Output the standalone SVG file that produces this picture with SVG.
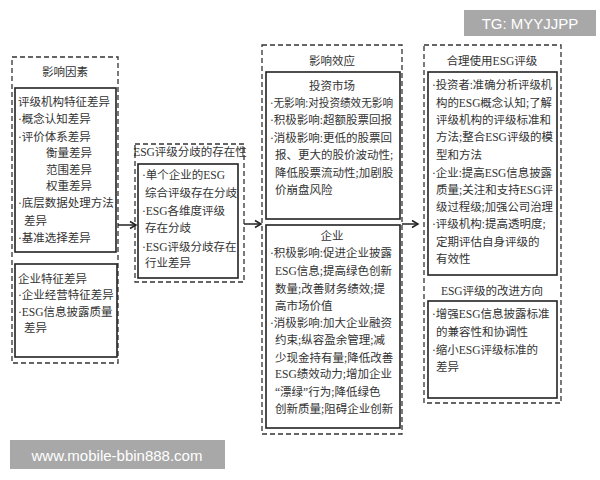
<svg xmlns="http://www.w3.org/2000/svg" width="600" height="480" viewBox="0 0 600 480">
<defs>
<style>
text{font-family:"Liberation Serif","Noto Sans CJK SC",serif;font-size:11.5px;fill:#333;dominant-baseline:central}
.t{text-anchor:middle}
.dash{fill:none;stroke:#333;stroke-width:1.3;stroke-dasharray:5,3}
.box{fill:none;stroke:#222;stroke-width:1.6}
.wm{font-family:"Liberation Sans","Noto Sans",sans-serif;fill:#fff;font-size:15px}
.arr{stroke:#222;stroke-width:1.5;fill:none}
</style>
<marker id="ah" markerUnits="userSpaceOnUse" markerWidth="10" markerHeight="10" refX="8" refY="5" orient="auto">
<path d="M2,1.5 L8,5 L2,8.5" fill="none" stroke="#222" stroke-width="1.5"/>
</marker>
</defs>
<rect width="600" height="480" fill="#fff"/>

<g id="factors">
<rect class="dash" x="12" y="57" width="106" height="306"/>
<text class="t" x="65" y="72">影响因素</text>
<rect class="box" x="15" y="88" width="101" height="164"/>
<text x="18" y="102">评级机构特征差异</text>
<text x="18" y="119">·概念认知差异</text>
<text x="18" y="137">·评价体系差异</text>
<text x="46" y="153">衡量差异</text>
<text x="46" y="170">范围差异</text>
<text x="46" y="186">权重差异</text>
<text x="18" y="203">·底层数据处理方法</text>
<text x="24" y="221">差异</text>
<text x="18" y="238">·基准选择差异</text>
<rect class="box" x="15" y="264" width="102" height="93"/>
<text x="18" y="279">企业特征差异</text>
<text x="18" y="295">·企业经营特征差异</text>
<text x="18" y="312">·ESG信息披露质量</text>
<text x="24" y="328">差异</text>
</g>

<g id="divergence">
<rect class="dash" x="135" y="144" width="109" height="138"/>
<text class="t" x="190" y="152">ESG评级分歧的存在性</text>
<rect class="box" x="138" y="164" width="100" height="114"/>
<text x="142" y="175">·单个企业的ESG</text>
<text x="145" y="193">综合评级存在分歧</text>
<text x="142" y="211">·ESG各维度评级</text>
<text x="145" y="228">存在分歧</text>
<text x="142" y="247">·ESG评级分歧存在</text>
<text x="145" y="263">行业差异</text>
</g>

<g id="effects">
<rect class="dash" x="262" y="45" width="140" height="389"/>
<text class="t" x="332" y="61">影响效应</text>
<rect class="box" x="266" y="72" width="134" height="147"/>
<text class="t" x="332" y="86">投资市场</text>
<text x="270" y="103" textLength="123" lengthAdjust="spacingAndGlyphs">·无影响:对投资绩效无影响</text>
<text x="270" y="120">·积极影响:超额股票回报</text>
<text x="270" y="138">·消极影响:更低的股票回</text>
<text x="275" y="155">报、更大的股价波动性;</text>
<text x="275" y="173">降低股票流动性;加剧股</text>
<text x="275" y="190">价崩盘风险</text>
<rect class="box" x="266" y="225" width="134" height="203"/>
<text class="t" x="332" y="236">企业</text>
<text x="270" y="253">·积极影响:促进企业披露</text>
<text x="275" y="271">ESG信息;提高绿色创新</text>
<text x="275" y="289">数量;改善财务绩效;提</text>
<text x="275" y="306">高市场价值</text>
<text x="270" y="323">·消极影响:加大企业融资</text>
<text x="275" y="340">约束;纵容盈余管理;减</text>
<text x="275" y="358">少现金持有量;降低改善</text>
<text x="275" y="374">ESG绩效动力;增加企业</text>
<text x="275" y="392">“漂绿”行为;降低绿色</text>
<text x="275" y="409">创新质量;阻碍企业创新</text>
</g>

<g id="usage">
<rect class="dash" x="424" y="45" width="137" height="358"/>
<text class="t" x="492" y="61">合理使用ESG评级</text>
<rect class="box" x="428" y="72" width="129" height="203"/>
<text x="432" y="85" textLength="120" lengthAdjust="spacingAndGlyphs">·投资者:准确分析评级机</text>
<text x="436" y="103" textLength="116" lengthAdjust="spacingAndGlyphs">构的ESG概念认知;了解</text>
<text x="436" y="120">评级机构的评级标准和</text>
<text x="436" y="137">方法;整合ESG评级的模</text>
<text x="436" y="155">型和方法</text>
<text x="432" y="173" textLength="120" lengthAdjust="spacingAndGlyphs">·企业:提高ESG信息披露</text>
<text x="436" y="190" textLength="117" lengthAdjust="spacingAndGlyphs">质量;关注和支持ESG评</text>
<text x="436" y="207" textLength="117" lengthAdjust="spacingAndGlyphs">级过程级;加强公司治理</text>
<text x="432" y="224">·评级机构:提高透明度;</text>
<text x="436" y="242">定期评估自身评级的</text>
<text x="436" y="259">有效性</text>
<text class="t" x="492" y="291">ESG评级的改进方向</text>
<rect class="box" x="428" y="301" width="129" height="97"/>
<text x="432" y="314">·增强ESG信息披露标准</text>
<text x="436" y="332">的兼容性和协调性</text>
<text x="432" y="350">·缩小ESG评级标准的</text>
<text x="436" y="367">差异</text>
</g>

<g id="connectors">
<line class="arr" x1="118" y1="225" x2="136" y2="225" marker-end="url(#ah)"/>
<line class="arr" x1="244" y1="224" x2="261" y2="224" marker-end="url(#ah)"/>
<line class="arr" x1="402" y1="224" x2="418" y2="224" marker-end="url(#ah)"/>
</g>

<g id="watermarks">
<rect x="464" y="10" width="132" height="26" fill="#a8a8a8"/>
<text class="wm t" x="530" y="23">TG: MYYJJPP</text>
<rect x="10" y="440" width="215" height="29" fill="#a8a8a8"/>
<text class="wm t" x="117" y="455">www.mobile-bbin888.com</text>
</g>
</svg>
